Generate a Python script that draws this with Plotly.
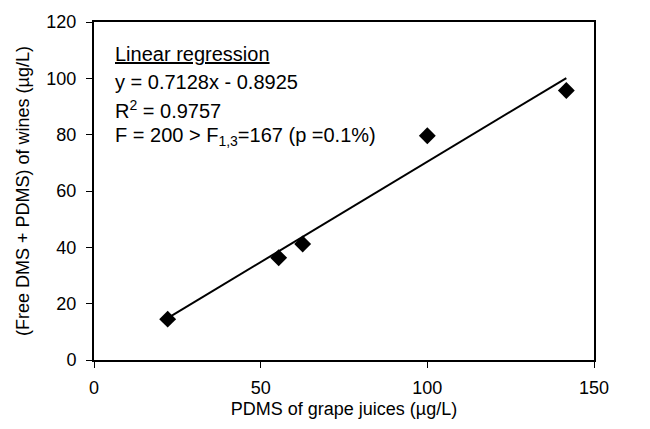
import plotly.graph_objects as go

# Data
pdms_juice = [22.1, 55.4, 62.6, 100.0, 141.7]
dms_wine = [14.5, 36.3, 41.2, 79.6, 95.7]
slope = 0.7128
intercept = -0.8925
fit_x = [min(pdms_juice), max(pdms_juice)]
fit_y = [slope * v + intercept for v in fit_x]

text_lines = [
    "<u>Linear regression</u>",
    "y = 0.7128x - 0.8925",
    "R<sup>2</sup> = 0.9757",
    "F = 200 > F<sub>1,3</sub>=167 (p =0.1%)",
]

FONT = "Liberation Sans, Arial, sans-serif"

fig = go.Figure()
fig.add_trace(go.Scatter(x=fit_x, y=fit_y, mode="lines",
                         line=dict(color="black", width=2), showlegend=False))
fig.add_trace(go.Scatter(x=pdms_juice, y=dms_wine, mode="markers",
                         marker=dict(symbol="diamond", size=13, color="black"),
                         showlegend=False))

ys = [0.905, 0.822, 0.740, 0.660]
for t, yy in zip(text_lines, ys):
    fig.add_annotation(text=t, xref="x domain", yref="y domain", x=0.038, y=yy,
                       xanchor="left", yanchor="middle", showarrow=False,
                       font=dict(family=FONT, size=20, color="black"))

fig.update_xaxes(range=[0, 150], tickvals=[0, 50, 100, 150], showgrid=False,
                 zeroline=False, showline=True, linecolor="black", linewidth=2,
                 mirror=True, ticks="outside", ticklen=6, tickcolor="black",
                 ticklabelstandoff=4,
                 tickfont=dict(family=FONT, size=18, color="black"),
                 title=dict(text="PDMS of grape juices (µg/L)", standoff=6,
                            font=dict(family=FONT, size=18, color="black")))
fig.update_yaxes(range=[0, 120], tickvals=[0, 20, 40, 60, 80, 100, 120], showgrid=False,
                 zeroline=False, showline=True, linecolor="black", linewidth=2,
                 mirror=True, ticks="outside", ticklen=6, tickcolor="black",
                 ticklabelstandoff=6,
                 tickfont=dict(family=FONT, size=18, color="black"),
                 title=dict(text="(Free DMS + PDMS) of wines (µg/L)", standoff=12,
                            font=dict(family=FONT, size=18, color="black")))

fig.update_layout(width=650, height=429, margin=dict(l=94, r=56, t=22, b=69),
                  plot_bgcolor="white", paper_bgcolor="white")
fig.write_html("out.html")
